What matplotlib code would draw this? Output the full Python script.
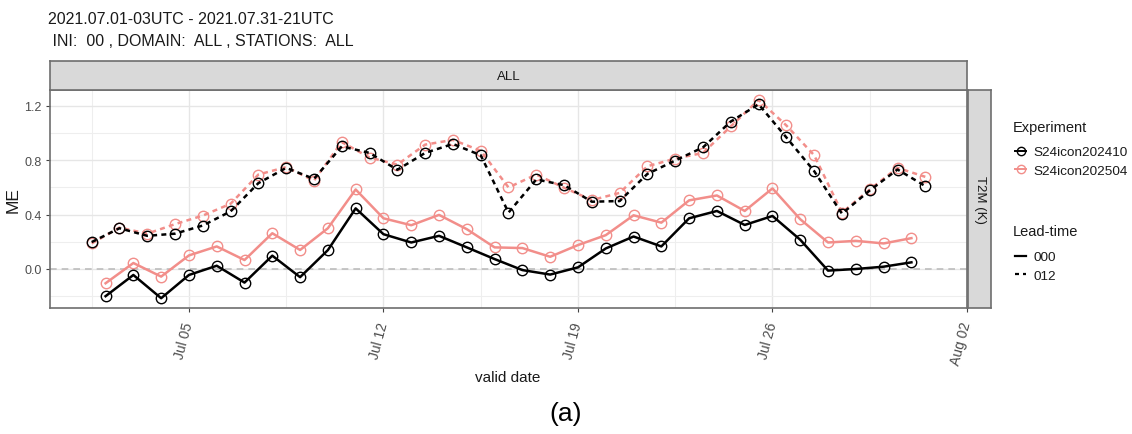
import datetime as dt
import matplotlib
matplotlib.use("Agg")
import matplotlib.pyplot as plt
import matplotlib.dates as mdates
from matplotlib.lines import Line2D

# ---------------- data ----------------
title_line1 = "2021.07.01-03UTC - 2021.07.31-21UTC"
title_line2 = " INI:  00 , DOMAIN:  ALL , STATIONS:  ALL"
experiments = ["S24icon202410", "S24icon202504"]
lead_times = ["000", "012"]

days_000 = list(range(2, 32))   # valid day of July, 00 UTC
days_012 = list(range(1, 32))   # valid day of July, 12 UTC

me_410_000 = [-0.200, -0.044, -0.215, -0.044, 0.024, -0.100, 0.098, -0.060, 0.139, 0.446,
              0.256, 0.195, 0.244, 0.159, 0.073, -0.008, -0.041, 0.012, 0.151, 0.239,
              0.166, 0.373, 0.427, 0.324, 0.390, 0.215, -0.012, 0.000, 0.017, 0.049]
me_504_000 = [-0.105, 0.044, -0.056, 0.100, 0.166, 0.066, 0.263, 0.140, 0.300, 0.585,
              0.373, 0.322, 0.398, 0.293, 0.159, 0.154, 0.090, 0.176, 0.249, 0.395,
              0.341, 0.505, 0.541, 0.427, 0.593, 0.366, 0.195, 0.207, 0.188, 0.227]
me_410_012 = [0.198, 0.300, 0.244, 0.260, 0.320, 0.424, 0.632, 0.744, 0.663, 0.902,
              0.854, 0.730, 0.854, 0.920, 0.837, 0.415, 0.659, 0.617, 0.495, 0.500,
              0.700, 0.798, 0.895, 1.085, 1.212, 0.968, 0.720, 0.407, 0.578, 0.732, 0.610]
me_504_012 = [0.188, 0.305, 0.260, 0.330, 0.393, 0.480, 0.695, 0.750, 0.650, 0.934,
              0.820, 0.768, 0.915, 0.950, 0.870, 0.600, 0.695, 0.598, 0.507, 0.560,
              0.756, 0.812, 0.854, 1.049, 1.244, 1.056, 0.837, 0.415, 0.585, 0.744, 0.678]

y_major = [0.0, 0.4, 0.8, 1.2]
y_major_labels = ["0.0", "0.4", "0.8", "1.2"]
y_minor = [-0.2, 0.2, 0.6, 1.0]
x_major = ["2021-07-05", "2021-07-12", "2021-07-19", "2021-07-26", "2021-08-02"]
x_major_labels = ["Jul 05", "Jul 12", "Jul 19", "Jul 26", "Aug 02"]
x_minor = ["2021-07-01 12", "2021-07-08 12", "2021-07-15 12", "2021-07-22 12", "2021-07-29 12"]

# ---------------- style ----------------
W, H = 1132, 435
BLACK = "#000000"
PINK = "#F28E8A"
TXT = "#4D4D4D"
DARK = "#1A1A1A"
plt.rcParams["font.family"] = ["Liberation Sans", "DejaVu Sans"]

fig = plt.figure(figsize=(W / 100, H / 100), dpi=100)

def fx(px):
    return px / W

def fy(py):
    return 1 - py / H

L, R, T, B = 50, 967, 91, 309
ax = fig.add_axes([fx(L), fy(B), fx(R - L), (B - T) / H])

x000 = [dt.datetime(2021, 7, d, 0) for d in days_000]
x012 = [dt.datetime(2021, 7, d, 12) for d in days_012]

DASH = (0, (2.0, 1.7))
series = [
    (x000, me_504_000, PINK, "-"),
    (x012, me_504_012, PINK, DASH),
    (x000, me_410_000, BLACK, "-"),
    (x012, me_410_012, BLACK, DASH),
]
for xs, ys, col, ls in series:
    ax.plot(xs, ys, color=col, linestyle=ls, lw=1.8, marker="o", ms=7.5,
            mfc="none", mec=col, mew=1.0, zorder=3)

ax.axhline(0.0, color="#BDBDBD", lw=1.2, linestyle=(0, (4, 3)), zorder=2)

ax.set_xlim(dt.datetime(2021, 6, 30, 0), dt.datetime(2021, 8, 2, 0))
ax.set_ylim(-0.287, 1.317)

ax.set_xticks([mdates.datestr2num(d) for d in x_major])
ax.set_xticklabels(x_major_labels, rotation=75, ha="right", va="center",
                   rotation_mode="anchor", color=TXT, fontsize=10)
ax.set_xticks([mdates.date2num(dt.datetime.strptime(d, "%Y-%m-%d %H")) for d in x_minor], minor=True)
ax.set_yticks(y_major)
ax.set_yticklabels(y_major_labels, color=TXT, fontsize=9)
ax.set_yticks(y_minor, minor=True)

ax.grid(True, which="major", color="#E6E6E6", lw=1.0, zorder=0)
ax.grid(True, which="minor", color="#EEEEEE", lw=0.8, zorder=0)
ax.set_axisbelow(True)
ax.tick_params(which="major", length=3, width=0.8, color="#444444", pad=3)
ax.tick_params(which="minor", length=0)
ax.tick_params(axis="x", pad=7)
for s in ax.spines.values():
    s.set_color("#6E6E6E")
    s.set_linewidth(1.2)

ax.set_ylabel("ME", fontsize=12.5, color=DARK, labelpad=3)
fig.text(fx(508), fy(378), "valid date", ha="center", va="center", fontsize=11, color=DARK)

# strips
top_strip = fig.add_axes([fx(L), fy(T), fx(R - L), (T - 62) / H])
right_strip = fig.add_axes([fx(R + 1), fy(B), fx(991 - R - 1), (B - T) / H])
for sax in (top_strip, right_strip):
    sax.set_facecolor("#D9D9D9")
    sax.set_xticks([])
    sax.set_yticks([])
    for s in sax.spines.values():
        s.set_color("#6E6E6E")
        s.set_linewidth(1.2)
top_strip.text(0.5, 0.5, "ALL", ha="center", va="center", fontsize=9.5, color=DARK,
               transform=top_strip.transAxes)
right_strip.text(0.5, 0.5, "T2M (K)", ha="center", va="center", rotation=-90, fontsize=9.5,
                 color=DARK, transform=right_strip.transAxes)

# titles
fig.text(fx(48), fy(20), title_line1, ha="left", va="center", fontsize=11.5, color=DARK)
fig.text(fx(48), fy(41), title_line2, ha="left", va="center", fontsize=11.5, color=DARK)
fig.text(0.5, fy(414), "(a)", ha="center", va="center", fontsize=19, color="#000000")

# legends
fig.text(fx(1013), fy(128), "Experiment", ha="left", va="center", fontsize=10.5, color=DARK)
fig.text(fx(1013), fy(232), "Lead-time", ha="left", va="center", fontsize=10.5, color=DARK)
exp_handles = [Line2D([], [], color=c, lw=1.4, marker="o", ms=6, mfc="none", mew=1.0)
               for c in (BLACK, PINK)]
lead_handles = [Line2D([], [], color=BLACK, lw=1.6, linestyle=ls) for ls in ("-", (0, (1.8, 1.8)))]
leg_kw = dict(loc="upper left", frameon=False, fontsize=9.7,
              handlelength=0.85, handletextpad=0.55, labelspacing=0.45,
              borderpad=0, borderaxespad=0)
leg1 = fig.legend(exp_handles, experiments, bbox_to_anchor=(fx(1015), fy(147)), **leg_kw)
leg2 = fig.legend(lead_handles, lead_times, bbox_to_anchor=(fx(1015), fy(252)), **leg_kw)
for leg in (leg1, leg2):
    for t in leg.get_texts():
        t.set_color(DARK)

fig.savefig("out.png", dpi=100)
